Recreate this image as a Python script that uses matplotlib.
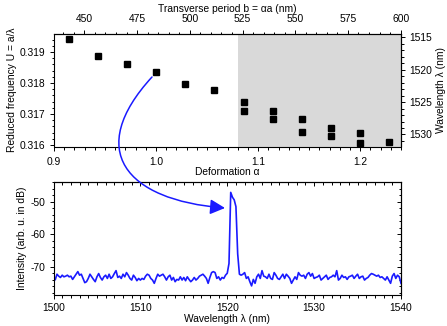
import numpy as np
import matplotlib
matplotlib.use("Agg")
import matplotlib.pyplot as plt
from matplotlib.ticker import MultipleLocator, FormatStrFormatter
from matplotlib.path import Path
from matplotlib.patches import FancyArrowPatch

plt.rcParams['font.family'] = ['Liberation Sans', 'DejaVu Sans']
plt.rcParams['font.size'] = 7.4
plt.rcParams['axes.unicode_minus'] = False
plt.rcParams['axes.linewidth'] = 0.8

# lattice constant a (nm), links alpha <-> b and U <-> lambda
period_a = 484

# top panel: deformation vs reduced frequency
alpha = [0.9143, 0.9429, 0.9714, 1.0, 1.0286, 1.0571,
         1.0857, 1.0857, 1.1143, 1.1143, 1.1429, 1.1429,
         1.1714, 1.1714, 1.2, 1.2, 1.2286]
freq_u = [0.31941, 0.31886, 0.31861, 0.31836, 0.31798, 0.31777,
          0.31739, 0.31711, 0.31711, 0.31685, 0.31685, 0.31643,
          0.31656, 0.31630, 0.31639, 0.31606, 0.31611]
shade_start = 1.0802

# bottom panel: measured spectrum, 1500-1540 nm
intensity = [
    -74.1, -74.0, -72.3, -72.9, -73.3, -72.6, -73.1, -72.9, -72.6, -73.1,
    -72.9, -73.9, -73.1, -72.3, -71.5, -72.6, -72.3, -73.6, -74.9, -74.6,
    -73.6, -72.3, -73.1, -73.9, -74.6, -73.1, -72.1, -73.3, -74.1, -73.1,
    -72.6, -73.6, -72.3, -73.6, -73.1, -72.1, -71.2, -73.3, -72.9, -73.6,
    -72.3, -73.1, -71.8, -72.6, -73.6, -74.1, -72.6, -73.3, -74.3, -73.6,
    -74.1, -73.6, -73.9, -72.9, -72.3, -72.6, -73.6, -74.1, -75.1, -73.6,
    -72.3, -72.9, -72.6, -72.3, -73.1, -74.1, -73.1, -72.6, -74.1, -73.3,
    -74.6, -73.9, -74.1, -73.1, -74.1, -73.3, -74.3, -73.1, -73.9, -74.6,
    -74.1, -73.3, -74.1, -73.6, -72.9, -72.6, -72.3, -72.9, -73.6, -75.1,
    -73.3, -71.8, -71.5, -71.8, -73.6, -73.1, -74.1, -73.3, -73.6, -72.6,
    -72.0, -69.0, -47.1, -48.6, -49.4, -51.5, -66.0, -72.3,
    -72.6, -72.3, -71.8, -73.6, -73.1, -74.6, -75.9, -73.9, -75.1, -73.1,
    -72.3, -73.6, -71.2, -72.9, -73.1, -73.6, -72.3, -73.6, -73.9, -71.8,
    -72.6, -73.6, -73.9, -73.1, -72.3,
    -73.6, -72.3, -72.9, -73.6, -75.1, -74.1, -73.1, -73.9, -71.8, -72.6,
    -72.9, -72.6, -73.6, -72.3, -71.8, -72.9, -72.1, -73.6, -73.3, -73.1,
    -72.6, -74.1, -73.6, -73.1, -72.6, -73.9, -73.3, -73.1, -72.6, -73.1,
    -71.2, -74.1, -73.6, -72.6, -73.3, -73.1, -73.9, -73.1, -72.9, -72.6,
    -73.6, -72.9, -72.3, -73.6, -73.1, -72.9, -74.1, -73.6, -73.3, -72.6,
    -72.1, -72.3, -72.6, -72.9, -72.6, -73.3, -73.1, -73.6, -74.1, -73.1,
    -74.1, -75.1, -72.9, -72.1, -73.6, -72.6, -73.1, -75.1,
]
wavelength = np.linspace(1500, 1540, len(intensity))

blue = '#1a1aff'
W, H = 447, 326

fig = plt.figure(figsize=(W / 100, H / 100), dpi=100)
ax1 = fig.add_axes([54 / W, 1 - 146.5 / H, 347 / W, 112.5 / H])
ax2 = fig.add_axes([53.5 / W, 1 - 295 / H, 347.5 / W, 112.7 / H])

# ---- top panel
ax1.axvspan(shade_start, 1.24, color='#d9d9d9', lw=0, zorder=0)
ax1.plot(alpha, freq_u, 's', color='black', ms=4, zorder=3)
ax1.set_xlim(0.9, 1.24)
ax1.set_ylim(0.31595, 0.31958)
ax1.set_xticks([0.9, 1.0, 1.1, 1.2])
ax1.xaxis.set_major_formatter(FormatStrFormatter('%.1f'))
ax1.xaxis.set_minor_locator(MultipleLocator(0.01))
ax1.set_yticks([0.316, 0.317, 0.318, 0.319])
ax1.yaxis.set_major_formatter(FormatStrFormatter('%.3f'))
ax1.yaxis.set_minor_locator(MultipleLocator(0.0002))
ax1.tick_params(which='both', direction='out', top=False, right=False, width=0.7)
ax1.tick_params(which='major', length=3)
ax1.tick_params(which='minor', length=1.8)
ax1.tick_params(axis='x', pad=4.5)
ax1.tick_params(axis='y', pad=3.5)
ax1.set_xlabel('Deformation α', labelpad=0)
ax1.set_ylabel('Reduced frequency U = a/λ', labelpad=2)

secx = ax1.secondary_xaxis('top', functions=(lambda x: x * period_a, lambda b: b / period_a))
secx.set_xticks([450, 475, 500, 525, 550, 575, 600])
secx.xaxis.set_minor_locator(MultipleLocator(5))
secx.tick_params(which='both', direction='out', width=0.7, pad=4)
secx.tick_params(which='major', length=3)
secx.tick_params(which='minor', length=1.8)
secx.set_xlabel('Transverse period b = αa (nm)', labelpad=1.5)

secy = ax1.secondary_yaxis('right', functions=(lambda u: period_a / u, lambda l: period_a / l))
secy.set_yticks([1515, 1520, 1525, 1530])
secy.yaxis.set_minor_locator(MultipleLocator(1))
secy.tick_params(which='both', direction='out', width=0.7, pad=2.7)
secy.tick_params(which='major', length=3)
secy.tick_params(which='minor', length=1.8)
secy.set_ylabel('Wavelength λ (nm)', labelpad=3)

# ---- bottom panel
ax2.plot(wavelength, intensity, color=blue, lw=1.2)
ax2.set_xlim(1500, 1540)
ax2.set_ylim(-78.7, -44.0)
ax2.set_xticks([1500, 1510, 1520, 1530, 1540])
ax2.xaxis.set_minor_locator(MultipleLocator(1))
ax2.set_yticks([-70, -60, -50])
ax2.yaxis.set_minor_locator(MultipleLocator(2))
ax2.tick_params(which='both', direction='out', top=False, right=False, width=0.7)
ax2.tick_params(which='major', length=3)
ax2.tick_params(which='minor', length=1.8)
ax2.tick_params(axis='x', pad=3)
ax2.tick_params(axis='y', pad=2.5)
ax2.set_xlabel('Wavelength λ (nm)', labelpad=0.5)
ax2.set_ylabel('Intensity (arb. u. in dB)', labelpad=3)

top2 = ax2.secondary_xaxis('top')
top2.set_xticks([1500, 1510, 1520, 1530, 1540])
top2.xaxis.set_minor_locator(MultipleLocator(1))
top2.tick_params(which='both', direction='in', width=0.7, labeltop=False)
top2.tick_params(which='major', length=3)
top2.tick_params(which='minor', length=1.8)
right2 = ax2.secondary_yaxis('right')
right2.set_yticks([-70, -60, -50])
right2.yaxis.set_minor_locator(MultipleLocator(2))
right2.tick_params(which='both', direction='in', width=0.7, labelright=False)
right2.tick_params(which='major', length=3)
right2.tick_params(which='minor', length=1.8)

# ---- curved arrow from the alpha = 1.0 point down to the lasing peak
pts = [(152, 77), (85, 150), (125, 200), (225, 208)]
verts = [(x / W, 1 - y / H) for x, y in pts]
arrow = FancyArrowPatch(path=Path(verts, [Path.MOVETO, Path.CURVE4, Path.CURVE4, Path.CURVE4]),
                        arrowstyle='-|>,head_length=0.75,head_width=0.38', mutation_scale=12,
                        color=blue, lw=1.1, transform=fig.transFigure)
fig.add_artist(arrow)

fig.savefig('out.png', dpi=100)
